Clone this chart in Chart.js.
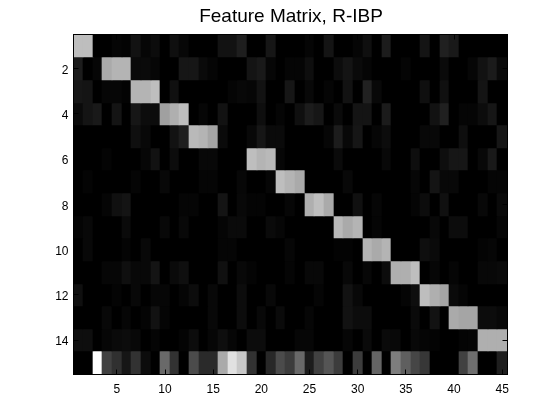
<!DOCTYPE html>
<html>
<head>
<meta charset="utf-8">
<title>Feature Matrix, R-IBP</title>
<script src="https://cdn.jsdelivr.net/npm/chart.js@4"></script>
<style>
  html, body { margin: 0; padding: 0; background: #fff; }
  canvas { display: block; }
</style>
</head>
<body>
<canvas id="matrix" width="560" height="420"></canvas>
<script>
// grey level of each cell (0 black .. 255 white)
const row1  = [190,190,0,0,5,3,18,6,12,0,15,7,0,0,0,18,18,30,0,0,22,0,0,0,5,0,20,0,0,5,15,0,28,0,0,0,20,0,32,25,0,0,0,0,0];
const row2  = [28,0,6,170,180,180,10,10,6,0,0,22,22,10,5,0,0,0,20,25,6,0,5,5,14,0,0,12,20,10,5,0,0,0,5,0,0,0,10,0,0,6,18,27,10];
const row3  = [22,20,0,6,6,3,180,180,190,0,16,0,0,0,0,0,5,8,6,18,0,0,22,0,8,0,5,0,18,0,33,8,0,0,0,0,15,0,16,0,0,0,20,0,0];
const row4  = [10,20,25,0,20,0,22,12,12,160,175,190,0,6,0,18,0,0,0,14,0,5,0,15,28,22,0,10,0,20,20,0,27,0,0,0,0,18,32,0,5,5,12,22,0];
const row5  = [0,0,0,0,0,0,15,8,0,0,18,30,185,180,165,10,0,0,8,22,10,10,0,0,0,0,6,28,8,22,0,6,12,0,0,0,8,8,0,0,14,0,0,0,22];
const row6  = [0,0,0,4,0,0,0,6,18,0,12,0,0,8,8,0,0,0,190,180,185,6,0,0,0,0,0,10,0,0,0,0,8,0,0,14,0,0,14,22,22,0,8,25,0];
const row7  = [0,4,0,0,0,0,5,0,0,8,0,0,0,5,5,0,0,7,0,0,6,190,180,170,0,0,0,0,8,0,0,0,0,0,0,6,0,20,8,8,0,0,0,5,5];
const row8  = [0,0,0,5,16,20,0,0,0,0,0,5,5,0,0,20,0,8,4,4,0,0,6,0,175,190,170,0,0,16,0,6,0,0,0,5,12,0,16,0,0,0,8,0,10];
const row9  = [4,8,0,0,0,10,0,0,0,8,0,8,0,0,0,5,10,10,0,0,10,6,0,0,0,0,0,185,170,180,0,5,0,0,0,0,0,8,0,12,12,0,0,0,6];
const row10 = [0,8,0,0,0,4,0,8,0,0,0,0,0,0,0,5,5,0,0,0,0,0,6,0,0,0,0,3,3,0,180,170,180,0,0,0,14,10,0,0,0,0,4,6,0];
const row11 = [0,0,0,6,6,15,8,8,20,0,10,15,0,0,0,16,0,8,4,0,0,0,5,0,8,8,0,0,8,0,7,0,12,175,175,190,0,6,0,5,0,0,8,8,10];
const row12 = [15,0,0,0,4,0,8,0,6,6,0,5,12,0,8,0,0,12,0,0,8,0,0,0,0,5,0,0,18,8,0,0,0,0,5,14,190,175,165,10,5,0,0,0,0];
const row13 = [0,0,0,8,0,6,0,4,18,5,0,0,0,0,8,0,0,12,0,8,0,10,0,0,6,0,0,0,18,12,12,0,0,0,0,10,0,18,0,170,165,165,12,12,8];
const row14 = [14,14,0,6,10,12,8,0,5,0,0,4,12,0,6,14,6,0,12,12,0,0,0,6,6,0,0,0,6,0,10,0,10,8,0,8,5,3,0,0,4,5,175,175,175];
const row15 = [0,0,255,65,48,22,50,12,0,105,50,0,75,42,42,170,225,200,50,0,40,75,60,105,28,65,85,60,0,60,0,100,0,125,95,70,55,0,0,0,65,110,0,0,30];
const featureRows = [row1,row2,row3,row4,row5,row6,row7,row8,row9,row10,row11,row12,row13,row14,row15];

const columns = featureRows[0].map((_, i) => String(i + 1));
const xTicks = [5, 10, 15, 20, 25, 30, 35, 40, 45];
const yTicks = [2, 4, 6, 8, 10, 12, 14];

const grey = v => `rgb(${v},${v},${v})`;

// one floating bar per cell, one dataset per row
const datasets = featureRows.map((row, r) => ({
    data: row.map(() => [r + 0.5, r + 1.5]),
    backgroundColor: row.map(grey),
    borderWidth: 0,
    barPercentage: 1,
    categoryPercentage: 1,
    grouped: false
}));

// snap the bars to whole pixels, otherwise thin seams show between cells
const snapCells = {
    id: 'snapCells',
    beforeDatasetDraw(chart, args) {
        args.meta.data.forEach(el => {
            const left = Math.round(el.x - el.width / 2);
            const right = Math.round(el.x + el.width / 2);
            const top = Math.round(Math.min(el.y, el.base));
            const bottom = Math.round(Math.max(el.y, el.base));
            el.x = (left + right) / 2;
            el.width = right - left;
            el.y = top;
            el.base = bottom;
            el.height = bottom - top;
        });
    }
};

// box and inward ticks on all four sides
const axesBox = {
    id: 'axesBox',
    afterDatasetsDraw(chart) {
        const { ctx, chartArea: a, scales } = chart;
        const len = 5;
        const left = Math.round(a.left) - 0.5;
        const right = Math.round(a.right) + 0.5;
        const top = Math.round(a.top) - 0.5;
        const bottom = Math.round(a.bottom) + 0.5;
        ctx.save();
        ctx.strokeStyle = '#000';
        ctx.lineWidth = 1;
        ctx.beginPath();
        xTicks.forEach(v => {
            const x = Math.floor(scales.x.getPixelForValue(v - 1)) + 0.5;
            ctx.moveTo(x, bottom);
            ctx.lineTo(x, bottom - len);
            ctx.moveTo(x, top);
            ctx.lineTo(x, top + len);
        });
        yTicks.forEach(v => {
            const y = Math.floor(scales.y.getPixelForValue(v)) + 0.5;
            ctx.moveTo(left, y);
            ctx.lineTo(left + len, y);
            ctx.moveTo(right, y);
            ctx.lineTo(right - len, y);
        });
        ctx.stroke();
        ctx.strokeRect(left, top, right - left, bottom - top);
        ctx.restore();
    }
};

const tickFont = { family: '"Liberation Sans", Arial, sans-serif', size: 12 };

new Chart(document.getElementById('matrix').getContext('2d'), {
    type: 'bar',
    data: { labels: columns, datasets: datasets },
    plugins: [snapCells, axesBox],
    options: {
        responsive: false,
        animation: false,
        events: [],
        layout: { padding: { left: 22, right: 0, top: 0, bottom: 0 } },
        plugins: {
            legend: { display: false },
            tooltip: { enabled: false },
            title: {
                display: true,
                text: 'Feature Matrix, R-IBP',
                color: '#000',
                font: { family: '"Liberation Sans", Arial, sans-serif', size: 19, weight: 'normal', lineHeight: 1.2 },
                padding: { top: 5, bottom: 7 }
            }
        },
        scales: {
            x: {
                type: 'category',
                offset: true,
                grid: { display: false, drawTicks: false },
                border: { display: false },
                ticks: { color: '#000', font: tickFont, autoSkip: false, maxRotation: 0, padding: 8 },
                afterBuildTicks: axis => { axis.ticks = xTicks.map(v => ({ value: v - 1 })); },
                afterFit: axis => { axis.height = 46; }
            },
            y: {
                type: 'linear',
                reverse: true,
                min: 0.5,
                max: 15.5,
                grid: { display: false, drawTicks: false },
                border: { display: false },
                ticks: { color: '#000', font: tickFont, padding: 5, labelOffset: 2 },
                afterBuildTicks: axis => { axis.ticks = yTicks.map(v => ({ value: v })); },
                afterFit: axis => { axis.width = 51.5; }
            },
            // empty axis, only keeps the white gutter right of the plot
            gutter: {
                type: 'linear',
                position: 'right',
                grid: { display: false, drawTicks: false },
                border: { display: false },
                ticks: { display: false },
                afterFit: axis => { axis.width = 53; }
            }
        }
    }
});
</script>
</body>
</html>
